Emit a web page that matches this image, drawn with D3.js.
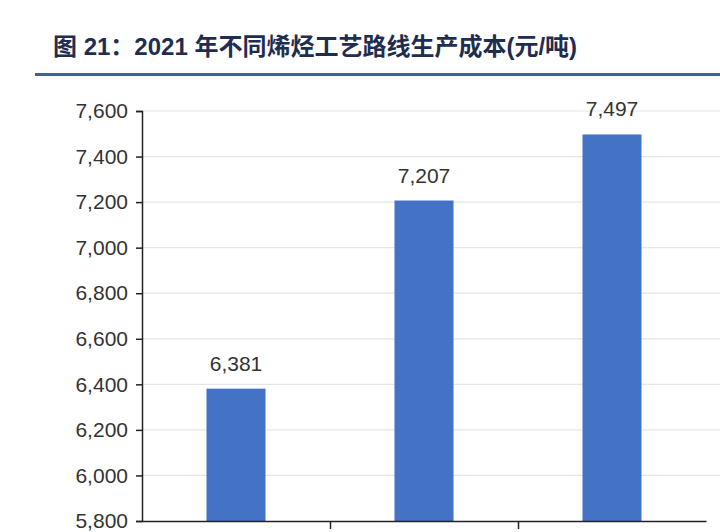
<!DOCTYPE html>
<html>
<head>
<meta charset="utf-8">
<script src="https://cdn.jsdelivr.net/npm/d3@7"></script>
<style>
  body { margin: 0; background: #fff; }
  svg { display: block; }
</style>
</head>
<body>
<svg id="chart" width="720" height="532"></svg>
<script>
// data
var categories = ['煤制烯烃', '石脑油裂解', '甲醇制烯烃'];
var costs = [6381, 7207, 7497];
var yTicks = [5800, 6000, 6200, 6400, 6600, 6800, 7000, 7200, 7400, 7600];

var svg = d3.select('#chart');

// title + rule
svg.append('text')
    .attr('x', 53).attr('y', 55)
    .attr('font-family', 'Liberation Sans, Noto Sans CJK SC, sans-serif')
    .attr('font-size', 24).attr('font-weight', 'bold')
    .attr('fill', '#1f2d50')
    .text('图 21：2021 年不同烯烃工艺路线生产成本(元/吨)');
svg.append('rect')
    .attr('x', 35).attr('y', 73).attr('width', 685).attr('height', 3)
    .attr('fill', '#3f6391');

var x = d3.scaleBand().domain(categories).range([142, 706]).paddingInner(0.686).paddingOuter(0.343);
var y = d3.scaleLinear().domain([5800, 7600]).range([521, 111]);

// gridlines
svg.append('g').selectAll('line').data(yTicks.slice(1)).join('line')
    .attr('x1', 142).attr('x2', 720)
    .attr('y1', function(d) { return y(d); }).attr('y2', function(d) { return y(d); })
    .attr('stroke', '#e6e6e6').attr('stroke-width', 1.2);

// bars
svg.append('g').selectAll('rect').data(costs).join('rect')
    .attr('x', function(d, i) { return x(categories[i]); })
    .attr('width', x.bandwidth())
    .attr('y', function(d) { return y(d); })
    .attr('height', function(d) { return y(5800) - y(d); })
    .attr('fill', '#4472c4');

// value labels
svg.append('g').selectAll('text').data(costs).join('text')
    .attr('x', function(d, i) { return x(categories[i]) + x.bandwidth() / 2; })
    .attr('y', function(d) { return y(d) - 18; })
    .attr('text-anchor', 'middle')
    .attr('font-family', 'Liberation Sans, Arial, sans-serif')
    .attr('font-size', 21).attr('fill', '#333')
    .text(d3.format(','));

// y axis
var yAxis = svg.append('g')
    .attr('transform', 'translate(142,0)')
    .call(d3.axisLeft(y).tickValues(yTicks).tickFormat(d3.format(',')).tickSize(6).tickPadding(8));
yAxis.select('.domain').attr('stroke', '#222').attr('stroke-width', 1.5);
yAxis.selectAll('.tick line').attr('stroke', '#222').attr('stroke-width', 1.5);
yAxis.selectAll('.tick text')
    .attr('font-family', 'Liberation Sans, Arial, sans-serif')
    .attr('font-size', 21).attr('fill', '#333');

// x axis (labels fall below the visible area)
var xAxis = svg.append('g')
    .attr('transform', 'translate(0,521)')
    .call(d3.axisBottom(d3.scaleLinear().domain([0, 3]).range([142, 706])).tickValues([1, 2]).tickFormat('').tickSize(8).tickSizeOuter(0));
xAxis.select('.domain').attr('stroke', '#222').attr('stroke-width', 1.5);
xAxis.selectAll('.tick line').attr('stroke', '#222').attr('stroke-width', 1.5);
</script>
</body>
</html>
